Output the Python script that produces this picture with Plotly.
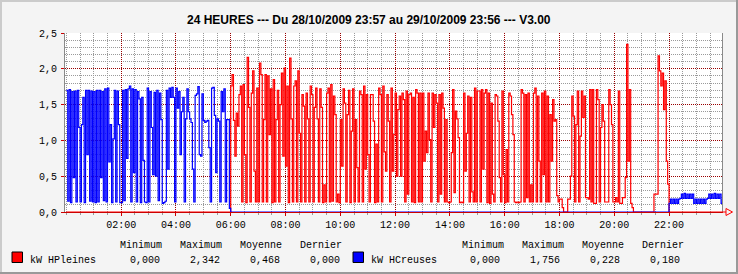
import pandas as pd
import plotly.graph_objects as go

# ---------------- data (kW, 3-minute steps) ----------------
START = "2009-10-29 00:00"
STEP = "3min"
RANGE_START = "2009-10-28 23:57"
RANGE_END = "2009-10-29 23:56"

# HCreuses 00:00 -> 05:57
hc_night = [
    1.70, 0.15, 1.71, 0.13, 1.68, 0.48, 1.69, 0.14, 1.70, 1.18,
    0.14, 1.22, 1.60, 0.13, 1.70, 0.80, 1.70, 0.15, 1.69, 0.14,
    1.68, 0.13, 1.70, 0.14, 1.70, 0.48, 1.68, 0.16, 1.72, 0.14,
    1.73, 0.70, 1.22, 0.13, 1.02, 1.70, 0.14, 1.69, 1.22, 0.13,
    0.13, 1.70, 0.16, 1.71, 0.75, 1.72, 1.76, 0.14, 1.72, 0.55,
    1.71, 0.14, 1.68, 1.58, 0.13, 1.60, 0.72, 0.14, 0.13, 1.73,
    0.14, 1.68, 1.18, 0.52, 1.67, 0.50, 1.70, 0.16, 1.66, 1.29,
    0.12, 0.13, 0.15, 1.70, 0.60, 1.73, 1.60, 1.74, 1.60, 0.14,
    1.73, 1.45, 1.68, 0.80, 1.40, 1.60, 0.14, 1.30, 1.72, 1.40,
    1.30, 1.25, 0.60, 0.14, 1.63, 1.65, 1.75, 0.80, 0.78, 1.65,
    1.28, 1.25, 1.27, 1.28, 0.90, 0.14, 1.73, 1.74, 1.35, 0.55,
    1.30, 1.27, 0.14, 1.68, 1.40, 1.72, 0.14, 1.29, 1.29, 0.05,
]
# HPleines 06:00 -> 11:57
hp_morning = [
    1.76, 1.92, 1.28, 0.78, 1.38, 1.20, 1.64, 1.76, 0.14, 1.78,
    0.80, 0.13, 2.16, 1.46, 0.14, 1.66, 1.97, 0.57, 0.14, 1.73,
    0.14, 2.08, 1.92, 0.14, 1.29, 1.92, 0.14, 1.90, 1.08, 1.72,
    0.13, 1.85, 0.14, 1.29, 1.70, 0.14, 1.50, 1.94, 0.78, 2.01,
    0.64, 1.76, 0.13, 2.15, 1.30, 0.14, 1.76, 1.83, 0.14, 1.97,
    1.10, 0.14, 1.64, 1.48, 0.14, 1.66, 1.30, 0.14, 1.76, 1.64,
    0.14, 1.46, 1.73, 1.30, 0.14, 1.72, 1.46, 0.13, 0.38, 0.14,
    1.66, 1.73, 0.14, 1.78, 0.15, 1.62, 1.36, 0.14, 0.25, 0.13,
    1.29, 0.64, 1.72, 1.52, 0.14, 1.36, 1.70, 0.13, 1.13, 1.72,
    0.14, 1.29, 0.62, 0.14, 1.69, 1.64, 0.14, 1.76, 0.60, 1.64,
    0.80, 0.14, 1.64, 1.64, 1.27, 0.13, 0.95, 0.14, 1.73, 1.64,
    0.14, 1.76, 0.84, 0.57, 1.64, 1.27, 0.14, 1.73, 0.57, 1.08,
]
# HPleines 12:00 -> 17:57
hp_midday = [
    1.66, 0.50, 1.43, 1.62, 0.50, 1.66, 1.57, 0.14, 1.69, 0.25,
    1.64, 1.66, 0.14, 1.60, 0.13, 1.71, 1.66, 0.14, 1.66, 0.14,
    1.66, 0.71, 1.13, 0.83, 1.66, 1.01, 0.14, 1.66, 1.18, 1.64,
    1.52, 0.14, 1.64, 0.25, 1.66, 1.45, 0.14, 1.29, 0.14, 0.13,
    0.14, 0.83, 1.71, 0.27, 1.41, 1.30, 1.04, 0.13, 0.14, 0.13,
    1.66, 0.57, 1.10, 1.62, 0.14, 1.60, 0.28, 0.14, 1.73, 0.14,
    1.69, 1.69, 0.14, 1.71, 0.60, 1.66, 1.71, 0.13, 1.66, 0.12,
    1.52, 0.25, 0.14, 1.64, 1.62, 1.27, 0.48, 0.14, 1.69, 0.52,
    0.13, 0.87, 0.14, 1.66, 1.62, 1.36, 1.08, 0.14, 0.13, 0.14,
    0.13, 0.14, 1.71, 1.66, 0.14, 1.64, 0.20, 1.66, 0.14, 0.38,
    0.14, 1.66, 1.73, 0.14, 1.62, 0.71, 0.14, 1.66, 0.52, 1.69,
    0.14, 1.62, 0.14, 1.36, 0.71, 1.57, 1.27, 1.29, 0.23, 0.14,
]
# HPleines 18:00 -> 21:57
hp_evening = [
    0.18, 0.18, 0.06, 0.00, 0.00, 0.00, 0.18, 0.18, 0.50, 1.62,
    1.34, 0.14, 1.22, 1.69, 0.14, 1.06, 1.69, 1.32, 1.62, 0.20,
    0.20, 0.18, 1.71, 0.14, 1.71, 0.12, 0.12, 1.71, 1.57, 0.14,
    1.18, 1.50, 1.27, 0.14, 0.14, 0.14, 1.71, 1.50, 1.22, 0.14,
    0.14, 0.20, 0.14, 1.69, 0.12, 0.12, 0.20, 0.20, 0.48, 2.34,
    0.71, 1.71, 0.12, 0.06, 0.00, 0.00, 0.00, 0.00, 0.00, 0.00,
    0.00, 0.00, 0.00, 0.00, 0.00, 0.00, 0.00, 0.00, 0.00, 0.25,
    0.25, 0.25, 2.18, 1.97, 1.76, 1.94, 1.43, 1.83, 0.71, 0.39,
]
# HCreuses 22:00 -> 23:57
hc_late = [
    0.12, 0.18, 0.12, 0.18, 0.12, 0.18, 0.12, 0.18,
    0.19, 0.25, 0.19, 0.26, 0.19, 0.25, 0.19, 0.25, 0.19, 0.25,
    0.12, 0.18, 0.12, 0.18, 0.12, 0.18, 0.12, 0.18, 0.12, 0.18,
    0.19, 0.25, 0.19, 0.25, 0.19, 0.26, 0.19, 0.25, 0.19, 0.25,
    0.12, 0.18,
]
# off-tariff periods read as 0 kW
hp_off_night = [0.0] * 120
hp_off_late = [0.0] * 40
hc_off_day = [0.0] * 320

hp_values = hp_off_night + hp_morning + hp_midday + hp_evening + hp_off_late
hc_values = hc_night + hc_off_day + hc_late

series_names = ["kW HPleines", "kW HCreuses"]
stat_headers = ["Minimum", "Maximum", "Moyenne", "Dernier"]
hp_stats = ["0,000", "2,342", "0,468", "0,000"]
hc_stats = ["0,000", "1,756", "0,228", "0,180"]

x_tick_vals = ["2009-10-29 %02d:00" % h for h in (2, 4, 6, 8, 10, 12, 14, 16, 18, 20, 22)]
x_tick_text = ["02:00", "04:00", "06:00", "08:00", "10:00", "12:00",
               "14:00", "16:00", "18:00", "20:00", "22:00"]
y_tick_vals = [0, 0.5, 1.0, 1.5, 2.0, 2.5]
y_tick_text = ["0,0", "0,5", "1,0", "1,5", "2,0", "2,5"]

title_text = "24 HEURES --- Du 28/10/2009 23:57 au 29/10/2009 23:56 --- V3.00"

# ---------------- figure ----------------
W, H = 738, 274
L, R, T, B = 65, 16, 33, 62
PW, PH = W - L - R, H - T - B

def px(x):
    return (x - L) / PW

def py(y):
    return (H - B - y) / PH

times = pd.date_range(START, periods=len(hp_values), freq=STEP)

RED = "#ff0000"
BLUE = "#0000ff"
MONO = "Liberation Mono, DejaVu Sans Mono, monospace"
MAJ = "#990000"
MIN = "#9a9a9a"

fig = go.Figure()
fig.add_trace(go.Scatter(x=times, y=hp_values, mode="lines", name=series_names[0],
                         line=dict(color=RED, width=1.2, shape="hv")))
fig.add_trace(go.Scatter(x=times, y=hc_values, mode="lines", name=series_names[1],
                         line=dict(color=BLUE, width=1.2, shape="hv")))

fig.update_layout(
    width=W, height=H,
    margin=dict(l=L, r=R, t=T, b=B, pad=0),
    paper_bgcolor="#f4f4f4",
    plot_bgcolor="#ffffff",
    showlegend=False,
    hovermode=False,
    xaxis=dict(
        type="date", range=[RANGE_START, RANGE_END],
        tickmode="array", tickvals=x_tick_vals, ticktext=x_tick_text,
        tickfont=dict(family=MONO, size=10, color="#000"),
        showgrid=True, gridcolor=MAJ, griddash="1px,1px", gridwidth=1,
        ticks="outside", ticklen=3, tickcolor="#cc0000",
        minor=dict(tickmode="linear", tick0="2009-10-29 00:00", dtick=1800000,
                   showgrid=True, gridcolor=MIN, griddash="1px,1px",
                   ticks="outside", ticklen=2, tickcolor=MIN),
        showline=True, linecolor="#cc0000", linewidth=1,
        zeroline=False, layer="below traces", fixedrange=True,
    ),
    yaxis=dict(
        range=[0, 2.5],
        tickmode="array", tickvals=y_tick_vals, ticktext=y_tick_text,
        tickfont=dict(family=MONO, size=10, color="#000"),
        showgrid=True, gridcolor=MAJ, griddash="1px,1px", gridwidth=1,
        ticks="outside", ticklen=3, tickcolor="#cc0000",
        minor=dict(tickmode="linear", tick0=0, dtick=0.1,
                   showgrid=True, gridcolor=MIN, griddash="1px,1px"),
        showline=True, linecolor="#8a8a8a", linewidth=1, mirror=True,
        zeroline=False, layer="below traces", fixedrange=True,
        ticklabelstandoff=2,
    ),
)

shapes = []
# 3D frame
shapes.append(dict(type="rect", xref="paper", yref="paper",
                   x0=px(0), x1=px(W), y0=py(0), y1=py(2), fillcolor="#cbcbcb",
                   line=dict(width=0), layer="below"))
shapes.append(dict(type="rect", xref="paper", yref="paper",
                   x0=px(0), x1=px(2), y0=py(0), y1=py(H), fillcolor="#cbcbcb",
                   line=dict(width=0), layer="below"))
shapes.append(dict(type="rect", xref="paper", yref="paper",
                   x0=px(0), x1=px(W), y0=py(H - 2), y1=py(H), fillcolor="#999999",
                   line=dict(width=0), layer="below"))
shapes.append(dict(type="rect", xref="paper", yref="paper",
                   x0=px(W - 2), x1=px(W), y0=py(0), y1=py(H), fillcolor="#999999",
                   line=dict(width=0), layer="below"))
# arrow at end of x axis
ax_y = H - B
shapes.append(dict(type="line", xref="paper", yref="paper",
                   x0=px(L + PW), x1=px(L + PW + 4), y0=py(ax_y), y1=py(ax_y),
                   line=dict(color="#ff0000", width=1)))
shapes.append(dict(type="path", xref="paper", yref="paper",
                   path="M %f %f L %f %f L %f %f Z" % (
                       px(726), py(ax_y - 3.5), px(732.5), py(ax_y),
                       px(726), py(ax_y + 3.5)),
                   line=dict(color="#ff0000", width=1), fillcolor="rgba(0,0,0,0)"))
# legend colour boxes
for x0, col in ((12, RED), (353, BLUE)):
    shapes.append(dict(type="rect", xref="paper", yref="paper",
                       x0=px(x0), x1=px(x0 + 10.5), y0=py(252), y1=py(262.5),
                       fillcolor=col, line=dict(color="#000000", width=1)))
fig.update_layout(shapes=shapes)

ann = []
ann.append(dict(text="<b>%s</b>" % title_text, x=px(368.5), y=py(19.5),
                xref="paper", yref="paper", showarrow=False,
                xanchor="center", yanchor="middle",
                font=dict(family="Liberation Sans, Arial, sans-serif", size=12, color="#000")))
header_centers = [(141, 201, 261, 321), (483, 543, 603, 663)]
value_centers = [(144.5, 204.5, 264.5, 324.5), (485, 545, 605, 665)]
name_left = [28, 369]
stats = [hp_stats, hc_stats]
for s in range(2):
    ann.append(dict(text=series_names[s], x=px(name_left[s]), y=py(260),
                    xref="paper", yref="paper", showarrow=False,
                    xanchor="left", yanchor="middle",
                    font=dict(family=MONO, size=10, color="#000")))
    for j in range(4):
        ann.append(dict(text=stat_headers[j], x=px(header_centers[s][j]), y=py(245),
                        xref="paper", yref="paper", showarrow=False,
                        xanchor="center", yanchor="middle",
                        font=dict(family=MONO, size=10, color="#000")))
        ann.append(dict(text=stats[s][j], x=px(value_centers[s][j]), y=py(260),
                        xref="paper", yref="paper", showarrow=False,
                        xanchor="center", yanchor="middle",
                        font=dict(family=MONO, size=10, color="#000")))
fig.update_layout(annotations=ann)

fig.write_html("out.html", config={"displayModeBar": False, "staticPlot": True})
